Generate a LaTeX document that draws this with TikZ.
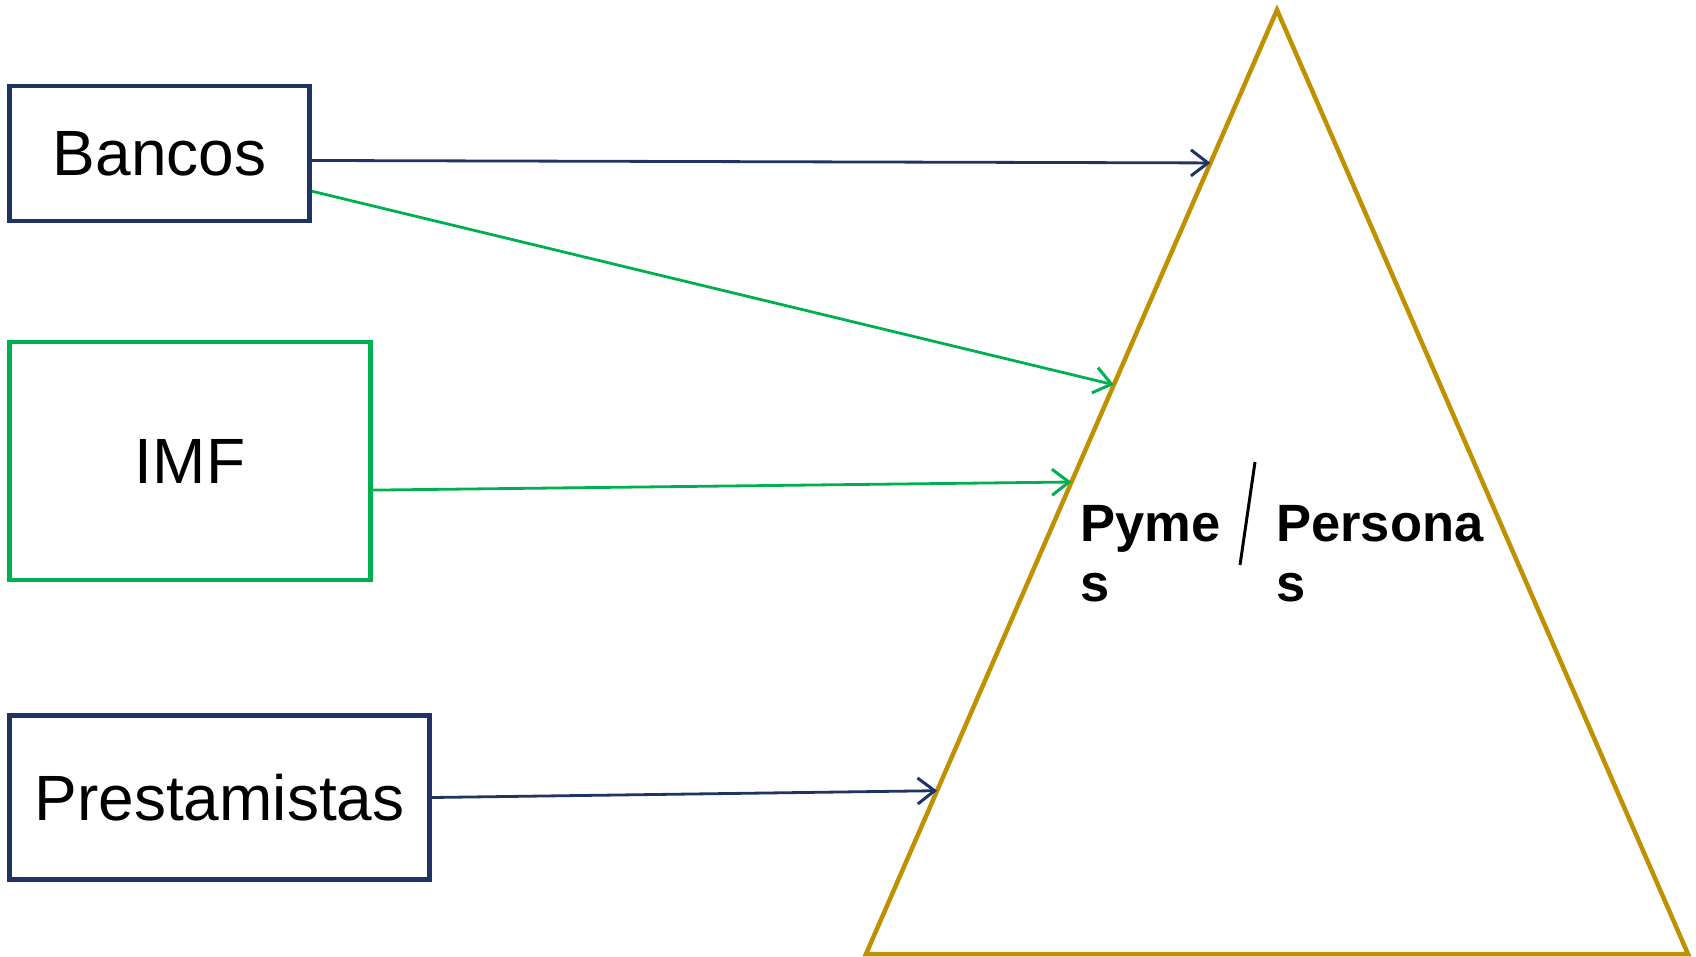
\documentclass[tikz,border=0pt]{standalone}
\usepackage{fontspec}
\setmainfont{Liberation Sans}
\usetikzlibrary{arrows.meta,calc}
\definecolor{navy}{HTML}{1F3462}
\definecolor{grn}{HTML}{00B050}
\definecolor{gold}{HTML}{BF9000}
\begin{document}
\begin{tikzpicture}[x=1pt,y=-1pt,
  box/.style={draw,line width=4.5pt,fill=white,inner sep=0pt,font=\fontsize{64}{76}\selectfont},
  link/.style={line width=2.8pt,-{Straight Barb[length=17pt,width=26pt,line width=3pt]}},
  lbl/.style={anchor=base west,inner sep=0pt,align=left,font=\fontsize{52.5}{60}\selectfont\bfseries}]
\useasboundingbox (0,0) rectangle (1696,956);
% triangle
\coordinate (apex) at (1277,10);
\coordinate (bl) at (866,954);
\coordinate (br) at (1688,954);
\draw[color=gold,line width=4.5pt,line join=miter] (apex) -- (bl) -- (br) -- cycle;
\node[lbl] (pymes) at (1080,601) {Pyme\\s};
\node[lbl] (personas) at (1276,601) {Persona\\s};
\draw[line width=3pt] (1255,462) -- (1240,565);
% sources
\node[box,draw=navy,minimum width=300pt,minimum height=135pt] (bancos) at (159.5,153.5) {Bancos};
\node[box,draw=grn,minimum width=361pt,minimum height=238pt] (imf) at (190,461) {IMF};
\node[box,draw=navy,minimum width=420pt,minimum height=164pt] (prest) at (219.5,797.5) {Prestamistas};
% points on the left side
\coordinate (t1) at ($(apex)!0.162!(bl)$);
\coordinate (t2) at ($(apex)!0.397!(bl)$);
\coordinate (t3) at ($(apex)!0.500!(bl)$);
\coordinate (t4) at ($(apex)!0.827!(bl)$);
\draw[link,color=navy] ($(bancos.north east)!0.55!(bancos.south east)$) -- (t1);
\draw[link,color=grn] ($(bancos.north east)!0.77!(bancos.south east)$) -- (t2);
\draw[link,color=grn] ($(imf.north east)!0.62!(imf.south east)$) -- (t3);
\draw[link,color=navy] (prest.east) -- (t4);
\end{tikzpicture}
\end{document}
